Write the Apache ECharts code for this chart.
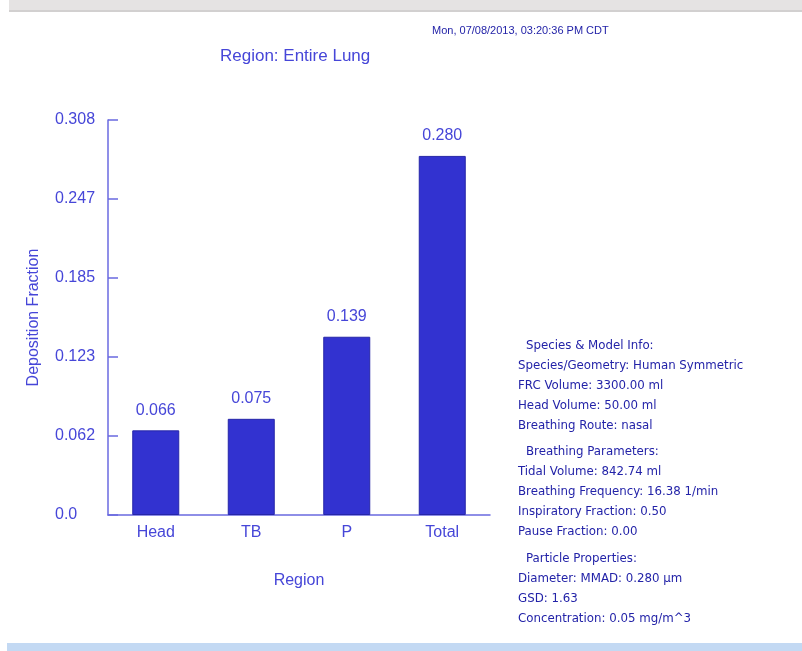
<!DOCTYPE html>
<html>
<head>
<meta charset="utf-8">
<script src="https://cdn.jsdelivr.net/npm/echarts@6/dist/echarts.min.js"></script>
<style>
  html, body { margin: 0; padding: 0; background: #fff; }
  #chart { width: 802px; height: 651px; }
</style>
</head>
<body>
<div id="chart"></div>
<script>
// Deposition fraction by lung region
const categories = ['Head', 'TB', 'P', 'Total'];
const deposition = [0.066, 0.075, 0.139, 0.280];
const tickLabels = ['0.0', '0.062', '0.123', '0.185', '0.247', '0.308'];
const axisMax = 0.308;

const stampText = 'Mon, 07/08/2013, 03:20:36 PM CDT';
const titleText = 'Region: Entire Lung';

// Simulation parameter panel, grouped by heading
const modelInfo = ['Species & Model Info:', 'Species/Geometry: Human Symmetric', 'FRC Volume: 3300.00 ml', 'Head Volume: 50.00 ml', 'Breathing Route: nasal'];
const breathingInfo = ['Breathing Parameters:', 'Tidal Volume: 842.74 ml', 'Breathing Frequency: 16.38 1/min', 'Inspiratory Fraction: 0.50', 'Pause Fraction: 0.00'];
const particleInfo = ['Particle Properties:', 'Diameter: MMAD: 0.280 \u00b5m', 'GSD: 1.63', 'Concentration: 0.05 mg/m^3'];

const BLUE = '#4646d8';
const TEXT_DARK = '#2323a8';
const FONT = '"Liberation Sans", Arial, sans-serif';
const INFO_FONT = '"DejaVu Sans", Verdana, sans-serif';

const panelGroups = [
  { lines: modelInfo, top: 346 },
  { lines: breathingInfo, top: 452 },
  { lines: particleInfo, top: 559 }
];
const panelText = [];
panelGroups.forEach(g => {
  g.lines.forEach((line, i) => {
    panelText.push({
      type: 'text',
      left: i === 0 ? 526 : 518,
      top: g.top + (i === 0 ? 0 : 20 * i) - 6,
      style: { text: line, fill: TEXT_DARK, font: '11.8px ' + INFO_FONT }
    });
  });
});

const chart = echarts.init(document.getElementById('chart'), null, { renderer: 'canvas' });
chart.setOption({
  backgroundColor: '#ffffff',
  animation: false,
  grid: { left: 108, right: 312, top: 120, bottom: 136, containLabel: false },
  graphic: [
    { type: 'rect', shape: { x: 9, y: 0, width: 793, height: 10 }, style: { fill: '#e5e3e3' } },
    { type: 'rect', shape: { x: 9, y: 10, width: 793, height: 2 }, style: { fill: '#d2d0d0' } },
    { type: 'rect', shape: { x: 7, y: 643, width: 795, height: 8 }, style: { fill: '#c3d9f3' } },
    { type: 'text', left: 432, top: 25, style: { text: stampText, fill: TEXT_DARK, font: '11px "Liberation Sans Narrow", "Liberation Sans", sans-serif' } },
    { type: 'text', left: 220, top: 48, style: { text: titleText, fill: BLUE, font: '17px ' + FONT } }
  ].concat(panelText),
  xAxis: {
    type: 'category',
    data: categories,
    name: 'Region',
    nameLocation: 'middle',
    nameGap: 58,
    nameTextStyle: { color: BLUE, fontSize: 16, fontFamily: FONT },
    axisLine: { lineStyle: { color: '#6a6ae0', width: 1.5 } },
    axisTick: { show: false },
    axisLabel: { color: BLUE, fontSize: 16, fontFamily: FONT, margin: 10 }
  },
  yAxis: {
    type: 'value',
    min: 0,
    max: axisMax,
    interval: axisMax / 5,
    name: 'Deposition Fraction',
    nameLocation: 'middle',
    nameRotate: 90,
    nameGap: 66,
    nameTextStyle: { color: BLUE, fontSize: 16, fontFamily: FONT },
    axisLine: { show: true, lineStyle: { color: '#6a6ae0', width: 1.5 } },
    axisTick: { show: true, inside: true, length: 10, lineStyle: { color: '#6a6ae0', width: 1.5 } },
    splitLine: { show: false },
    axisLabel: {
      color: BLUE, fontSize: 16, fontFamily: FONT, margin: 53, align: 'left',
      formatter: (v, i) => tickLabels[i]
    }
  },
  series: [{
    type: 'bar',
    data: deposition,
    barWidth: 47,
    itemStyle: { color: '#3232d0', borderColor: '#2626a8', borderWidth: 1 },
    label: {
      show: true,
      position: 'top',
      distance: 12,
      color: BLUE,
      fontSize: 16,
      fontFamily: FONT,
      formatter: p => p.value.toFixed(3)
    }
  }]
});
</script>
</body>
</html>
